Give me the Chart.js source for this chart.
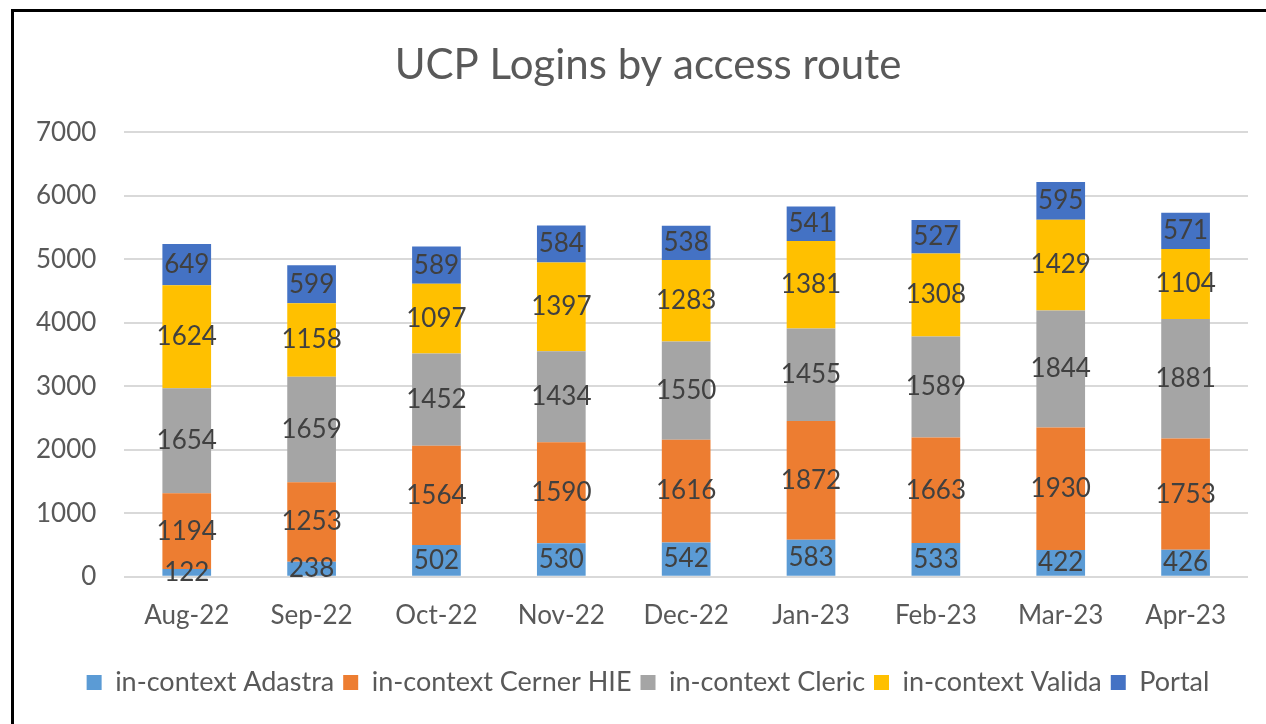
<!DOCTYPE html>
<html>
<head>
<meta charset="utf-8">
<script src="https://cdn.jsdelivr.net/npm/chart.js@4/dist/chart.umd.min.js"></script>
<style>
  html, body { margin: 0; padding: 0; background: #fff; overflow: hidden; }
  #wrap { width: 1266px; height: 724px; position: relative; overflow: hidden; }
</style>
</head>
<body>
<div id="wrap"><canvas id="loginsChart" width="1310" height="724"></canvas></div>
<script>
const months = ["Aug-22", "Sep-22", "Oct-22", "Nov-22", "Dec-22", "Jan-23", "Feb-23", "Mar-23", "Apr-23"];

const adastra = [122, 238, 502, 530, 542, 583, 533, 422, 426];
const cerner  = [1194, 1253, 1564, 1590, 1616, 1872, 1663, 1930, 1753];
const cleric  = [1654, 1659, 1452, 1434, 1550, 1455, 1589, 1844, 1881];
const valida  = [1624, 1158, 1097, 1397, 1283, 1381, 1308, 1429, 1104];
const portal  = [649, 599, 589, 584, 538, 541, 527, 595, 571];

const yTicks = [0, 1000, 2000, 3000, 4000, 5000, 6000, 7000];

const FONT = "Lato, 'Open Sans', sans-serif";

// frame round the whole picture (right and bottom edges run off the page)
const framePlugin = {
    id: "frame",
    beforeDraw(chart) {
        const c = chart.ctx;
        c.save();
        c.fillStyle = "#fff";
        c.fillRect(0, 0, chart.width, chart.height);
        c.strokeStyle = "#000";
        c.lineWidth = 3;
        c.strokeRect(12.5, 10.5, 1400, 800);
        c.restore();
    }
};

// value labels in the middle of each segment
const segmentLabels = {
    id: "segmentLabels",
    afterDatasetsDraw(chart) {
        const c = chart.ctx;
        c.save();
        c.font = "26px " + FONT;
        c.fillStyle = "#404040";
        c.textAlign = "center";
        c.textBaseline = "middle";
        chart.data.datasets.forEach((ds, i) => {
            const meta = chart.getDatasetMeta(i);
            meta.data.forEach((bar, j) => {
                const mid = (bar.y + bar.base) / 2;
                c.fillText(String(ds.data[j]), bar.x, mid);
            });
        });
        c.restore();
    }
};

const ctx = document.getElementById("loginsChart").getContext("2d");

new Chart(ctx, {
    type: "bar",
    data: {
        labels: months,
        datasets: [
            { label: "in-context Adastra", data: adastra, backgroundColor: "#5B9BD5" },
            { label: "in-context Cerner HIE", data: cerner, backgroundColor: "#ED7D31" },
            { label: "in-context Cleric", data: cleric, backgroundColor: "#A5A5A5" },
            { label: "in-context Valida", data: valida, backgroundColor: "#FFC000" },
            { label: "Portal", data: portal, backgroundColor: "#4472C4" }
        ]
    },
    options: {
        responsive: false,
        animation: false,
        datasets: {
            bar: {
                categoryPercentage: 1,
                barPercentage: 0.39
            }
        },
        layout: {
            padding: { left: 8, right: 22, top: 40, bottom: 18 }
        },
        plugins: {
            title: {
                display: true,
                text: "UCP Logins by access route",
                color: "#595959",
                font: { family: FONT, size: 42, weight: "normal" },
                padding: { top: 0, bottom: 42 }
            },
            legend: {
                position: "bottom",
                labels: {
                    color: "#595959",
                    font: { family: FONT, size: 27 },
                    boxWidth: 15,
                    boxHeight: 15,
                    padding: 9
                }
            },
            tooltip: { enabled: false }
        },
        scales: {
            x: {
                stacked: true,
                grid: { display: false },
                border: { display: false },
                afterFit(scale) {
                    // extra room between month labels and legend
                    scale.height += 14;
                },
                ticks: {
                    color: "#595959",
                    font: { family: FONT, size: 26 },
                    padding: 15
                }
            },
            y: {
                stacked: true,
                min: 0,
                max: 7000,
                afterBuildTicks(axis) {
                    axis.ticks = yTicks.map(v => ({ value: v }));
                },
                grid: {
                    color: "#D9D9D9",
                    lineWidth: 2,
                    drawTicks: false
                },
                border: { display: false },
                ticks: {
                    color: "#595959",
                    font: { family: FONT, size: 26 },
                    padding: 28,
                    callback: function (value) {
                        return String(value);
                    }
                }
            },
            // empty right gutter so the plot stops short of the frame
            gutter: {
                position: "right",
                grid: { display: false },
                border: { display: false },
                ticks: { display: false },
                afterFit(scale) {
                    scale.width = 40;
                }
            }
        }
    },
    plugins: [framePlugin, segmentLabels]
});
</script>
</body>
</html>
